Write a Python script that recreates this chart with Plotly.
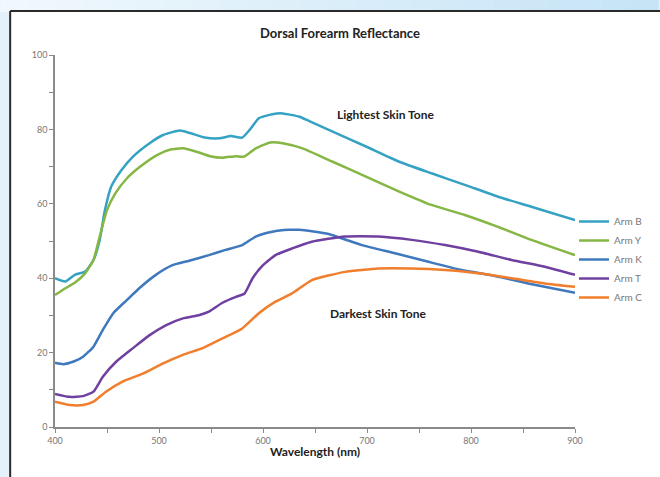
import plotly.graph_objects as go

# ---------------- data ----------------
arm_b_wl = [400, 410, 419, 429, 437, 443, 448, 454, 464, 475, 491, 504, 520, 529, 544, 558, 569, 580, 587, 596, 609, 619, 635, 644, 667, 699, 731, 762, 794, 826, 858, 900]
arm_b = [40.0, 39.1, 40.9, 41.8, 44.9, 50.3, 58.3, 64.6, 69.1, 72.7, 76.3, 78.5, 79.7, 79.1, 77.8, 77.6, 78.2, 77.8, 79.8, 83.0, 84.1, 84.3, 83.4, 82.3, 79.4, 75.4, 71.3, 68.2, 65.1, 61.9, 59.2, 55.6]

arm_y_wl = [400, 410, 419, 429, 437, 443, 450, 458, 469, 482, 498, 511, 523, 536, 549, 561, 574, 582, 593, 607, 619, 638, 667, 699, 731, 762, 794, 826, 858, 900]
arm_y = [35.5, 37.3, 38.8, 41.3, 44.9, 51.2, 58.3, 62.8, 66.8, 70.0, 73.1, 74.6, 74.9, 74.0, 72.8, 72.4, 72.8, 72.7, 74.9, 76.5, 76.3, 74.9, 71.3, 67.3, 63.3, 59.7, 57.0, 53.8, 50.3, 46.2]

arm_k_wl = [400, 408, 418, 427, 437, 446, 456, 469, 481, 497, 513, 529, 548, 564, 580, 593, 609, 625, 635, 663, 695, 727, 759, 791, 823, 855, 900]
arm_k = [17.3, 16.9, 17.6, 18.9, 21.6, 26.1, 30.6, 34.1, 37.3, 40.9, 43.5, 44.7, 46.2, 47.6, 48.9, 51.2, 52.5, 53.0, 53.0, 51.9, 48.9, 46.7, 44.4, 42.2, 40.6, 38.6, 36.1]

arm_t_wl = [400, 414, 427, 437, 446, 459, 475, 491, 507, 523, 539, 548, 561, 574, 582, 590, 600, 612, 628, 647, 679, 711, 743, 775, 807, 839, 871, 900]
arm_t = [8.9, 8.1, 8.3, 9.5, 13.5, 17.6, 21.2, 24.7, 27.4, 29.2, 30.1, 31.0, 33.4, 35.0, 35.8, 40.0, 43.5, 46.2, 48.0, 49.8, 51.2, 51.2, 50.3, 48.9, 47.1, 44.9, 43.1, 40.9]

arm_c_wl = [400, 414, 427, 437, 449, 465, 485, 504, 523, 542, 561, 580, 596, 612, 628, 647, 679, 711, 743, 775, 807, 839, 871, 900]
arm_c = [6.8, 5.9, 5.9, 6.8, 9.5, 12.2, 14.4, 17.1, 19.4, 21.2, 23.8, 26.5, 30.6, 33.7, 35.9, 39.5, 41.7, 42.6, 42.6, 42.2, 41.3, 40.0, 38.6, 37.7]

series_names = ["Arm B", "Arm Y", "Arm K", "Arm T", "Arm C"]
x_ticks = [400, 500, 600, 700, 800, 900]
y_ticks = [0, 20, 40, 60, 80, 100]

# ---------------- styling ----------------
W, H = 660, 477
ML, MR, MT, MB = 55, 83, 55, 50
PW, PH = W - ML - MR, H - MT - MB


def px_x(p):
    return (p - ML) / PW


def px_y(p):
    return (H - MB - p) / PH


colors = ["#35a2c4", "#86b644", "#3f78bd", "#7040a0", "#f07e2c"]
FONT = "Lato, Carlito, 'Open Sans', sans-serif"

fig = go.Figure()
all_x = [arm_b_wl, arm_y_wl, arm_k_wl, arm_t_wl, arm_c_wl]
all_y = [arm_b, arm_y, arm_k, arm_t, arm_c]
for name, xs, ys, c in zip(series_names, all_x, all_y, colors):
    fig.add_trace(go.Scatter(x=xs, y=ys, name=name, mode="lines",
                             line=dict(color=c, width=2.5, shape="spline", smoothing=0.5)))

shapes = []
# top gradient strip
n = 24
c0 = (240, 248, 253)
c1 = (198, 228, 246)
for i in range(n):
    t = i / (n - 1)
    col = "rgb(%d,%d,%d)" % tuple(round(a + (b - a) * t) for a, b in zip(c0, c1))
    shapes.append(dict(type="rect", xref="paper", yref="paper", layer="below",
                       x0=px_x(W * i / n), x1=px_x(W * (i + 1) / n + 1),
                       y0=px_y(12), y1=px_y(-2), fillcolor=col, line=dict(width=0)))
# white chart box
shapes.append(dict(type="rect", xref="paper", yref="paper", layer="below",
                   x0=px_x(10), x1=px_x(W + 5), y0=px_y(H + 5), y1=px_y(11),
                   fillcolor="white", line=dict(width=0)))
# dark borders
shapes.append(dict(type="line", xref="paper", yref="paper", layer="below",
                   x0=px_x(10), x1=px_x(W + 5), y0=px_y(11), y1=px_y(11),
                   line=dict(color="#2a2a2a", width=2)))
shapes.append(dict(type="line", xref="paper", yref="paper", layer="below",
                   x0=px_x(10), x1=px_x(10), y0=px_y(11), y1=px_y(H + 5),
                   line=dict(color="#2a2a2a", width=2)))

fig.update_layout(
    width=W, height=H,
    margin=dict(l=ML, r=MR, t=MT, b=MB),
    paper_bgcolor="#e4f1fa",
    plot_bgcolor="white",
    shapes=shapes,
    showlegend=True,
    legend=dict(x=px_x(576), y=px_y(207), xanchor="left", yanchor="top",
                font=dict(family=FONT, size=10, color="#777"),
                bgcolor="rgba(0,0,0,0)", itemwidth=30, tracegroupgap=0),
    title=dict(text="<b>Dorsal Forearm Reflectance</b>", x=340 / W, xanchor="center",
               y=1 - 33 / H, yanchor="middle", font=dict(family=FONT, size=13, color="#222")),
    annotations=[
        dict(text="<b>Lightest Skin Tone</b>", x=718, y=84.1, xref="x", yref="y",
             showarrow=False, font=dict(family=FONT, size=12, color="#222")),
        dict(text="<b>Darkest Skin Tone</b>", x=711, y=30.6, xref="x", yref="y",
             showarrow=False, font=dict(family=FONT, size=12, color="#222")),
        dict(text="<b>Wavelength (nm)</b>", x=0.5, y=px_y(461), xref="paper", yref="paper",
             showarrow=False, font=dict(family=FONT, size=12, color="#222")),
    ],
)

fig.update_xaxes(range=[400, 900], tickvals=x_ticks, ticktext=[str(v) for v in x_ticks],
                 showgrid=False, zeroline=False, showline=True, linecolor="#8a8a8a", linewidth=1.5,
                 ticks="outside", ticklen=4, tickcolor="#8a8a8a",
                 minor=dict(dtick=50, ticks="outside", ticklen=4, tickcolor="#8a8a8a"),
                 tickfont=dict(family=FONT, size=9, color="#777"))
fig.update_yaxes(range=[0, 100], tickvals=y_ticks, ticktext=[str(v) for v in y_ticks],
                 showgrid=False, zeroline=False, showline=True, linecolor="#8a8a8a", linewidth=1.5,
                 ticks="outside", ticklen=4, tickcolor="#8a8a8a",
                 minor=dict(dtick=10, ticks="outside", ticklen=4, tickcolor="#8a8a8a"),
                 tickfont=dict(family=FONT, size=9, color="#777"))

fig.write_html("out.html", config={"displayModeBar": False},
               post_script="document.body.style.margin='0';document.body.style.overflow='hidden';")
